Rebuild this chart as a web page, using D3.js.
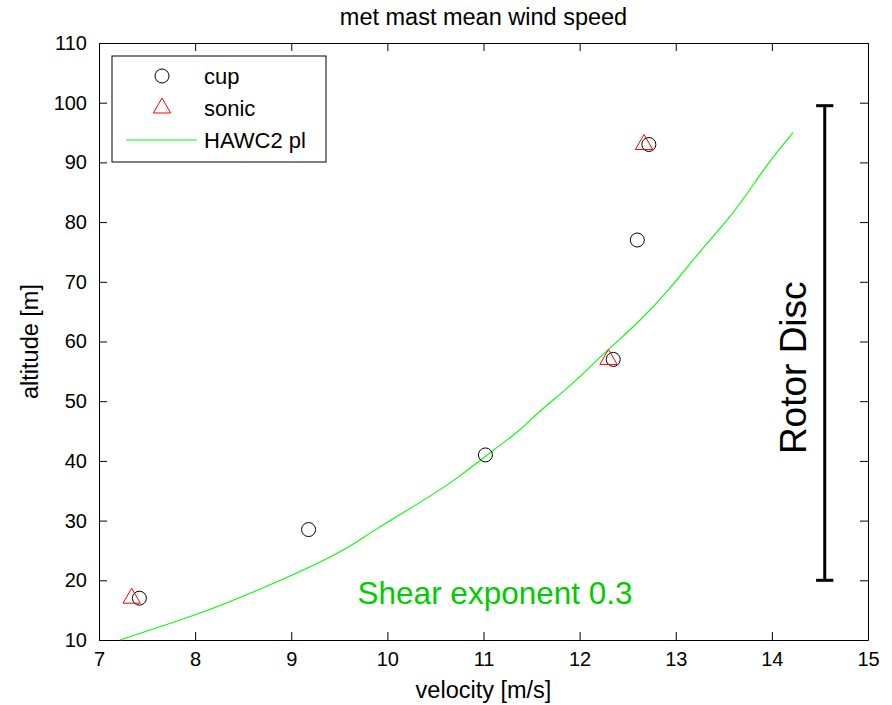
<!DOCTYPE html>
<meta charset="utf-8">
<style>
body { margin: 0; background: #fff; }
svg { font-family: "Liberation Sans", Arial, sans-serif; }
.axis path, .axis line { stroke: #000; }
.axis text { font-size: 20px; fill: #000; }
</style>
<svg width="892" height="705"></svg>
<script src="https://d3js.org/d3.v7.min.js"></script>
<script>

// values
var cupVel = [7.42, 9.18, 11.02, 12.35, 12.60, 12.72],
    cupAlt = [17, 28.5, 41, 57, 77, 93];
var sonicVel = [7.34, 12.30, 12.67],
    sonicAlt = [17, 57, 93];
var plVel = [7.22, 7.63, 8.15, 8.60, 8.92, 9.30, 9.61, 9.82, 10.42, 10.73, 11.10, 11.39, 11.59, 11.88, 12.15, 12.30, 12.64, 12.95, 13.26, 13.54, 13.75, 13.96, 14.22],
    plAlt = [10, 12.2, 15, 18, 20.2, 23, 25.6, 28, 33.8, 37.1, 41.8, 45.2, 48.5, 52.2, 56.4, 58.7, 63.6, 69, 75.3, 80.3, 84.9, 89.9, 95];
var rotorVel = 14.55,
    rotorAlt = [20, 99.5];
var xTicks = [7, 8, 9, 10, 11, 12, 13, 14, 15],
    yTicks = [10, 20, 30, 40, 50, 60, 70, 80, 90, 100, 110];

var svg = d3.select("svg"),
    margin = {top: 43, right: 24, bottom: 65, left: 99},
    width = +svg.attr("width") - margin.left - margin.right,
    height = +svg.attr("height") - margin.top - margin.bottom;

var x = d3.scaleLinear().domain([7, 15]).range([0, width]),
    y = d3.scaleLinear().domain([10, 110]).range([height, 0]);

var g = svg.append("g")
    .attr("transform", "translate(" + margin.left + "," + margin.top + ")");

// axes, matlab style: ticks inward on all four sides
g.append("g")
    .attr("class", "axis")
    .attr("transform", "translate(0," + height + ")")
    .call(d3.axisBottom(x).tickValues(xTicks).tickSize(-8).tickPadding(12).tickSizeOuter(0));
g.append("g")
    .attr("class", "axis")
    .call(d3.axisTop(x).tickValues(xTicks).tickSize(-8).tickFormat("").tickSizeOuter(0));
g.append("g")
    .attr("class", "axis")
    .call(d3.axisLeft(y).tickValues(yTicks).tickSize(-8).tickPadding(12).tickSizeOuter(0));
g.append("g")
    .attr("class", "axis")
    .attr("transform", "translate(" + width + ",0)")
    .call(d3.axisRight(y).tickValues(yTicks).tickSize(-8).tickFormat("").tickSizeOuter(0));

// power law line
var line = d3.line()
    .curve(d3.curveBasis)
    .x(function(d) { return x(d[0]); })
    .y(function(d) { return y(d[1]); });
g.append("path")
    .datum(d3.zip(plVel, plAlt))
    .attr("fill", "none")
    .attr("stroke", "#00ff00")
    .attr("stroke-width", 1.1)
    .attr("d", line);

// cup
g.selectAll(".cup")
    .data(d3.zip(cupVel, cupAlt))
  .enter().append("circle")
    .attr("class", "cup")
    .attr("cx", function(d) { return x(d[0]); })
    .attr("cy", function(d) { return y(d[1]); })
    .attr("r", 7)
    .attr("fill", "none")
    .attr("stroke", "#000");

// sonic
var tri = d3.symbol().type(d3.symbolTriangle).size(130);
g.selectAll(".sonic")
    .data(d3.zip(sonicVel, sonicAlt))
  .enter().append("path")
    .attr("class", "sonic")
    .attr("transform", function(d) { return "translate(" + x(d[0]) + "," + y(d[1]) + ")"; })
    .attr("d", tri)
    .attr("fill", "none")
    .attr("stroke", "#ff0000");

// rotor disc bar
var cap = 0.09;
g.append("line")
    .attr("x1", x(rotorVel)).attr("x2", x(rotorVel))
    .attr("y1", y(rotorAlt[0])).attr("y2", y(rotorAlt[1]))
    .attr("stroke", "#000").attr("stroke-width", 3);
rotorAlt.forEach(function(a) {
  g.append("line")
      .attr("x1", x(rotorVel - cap)).attr("x2", x(rotorVel + cap))
      .attr("y1", y(a)).attr("y2", y(a))
      .attr("stroke", "#000").attr("stroke-width", 3);
});
g.append("text")
    .attr("transform", "translate(" + (x(rotorVel) - 19) + "," + y(55.6) + ") rotate(-90)")
    .attr("text-anchor", "middle")
    .style("font-size", "37px")
    .text("Rotor Disc");

g.append("text")
    .attr("x", x(9.69))
    .attr("y", y(16.1))
    .style("font-size", "31.5px")
    .attr("fill", "rgb(0,204,0)")
    .text("Shear exponent 0.3");

// titles
svg.append("text")
    .attr("x", margin.left + width / 2)
    .attr("y", 25)
    .attr("text-anchor", "middle")
    .style("font-size", "23.5px")
    .text("met mast mean wind speed");
svg.append("text")
    .attr("x", margin.left + width / 2)
    .attr("y", 698)
    .attr("text-anchor", "middle")
    .style("font-size", "23.5px")
    .text("velocity [m/s]");
svg.append("text")
    .attr("transform", "translate(38," + (margin.top + height / 2) + ") rotate(-90)")
    .attr("text-anchor", "middle")
    .style("font-size", "23.5px")
    .text("altitude [m]");

// legend
var lg = svg.append("g").attr("transform", "translate(112,56)");
lg.append("rect")
    .attr("width", 214).attr("height", 106)
    .attr("fill", "#fff").attr("stroke", "#000");
lg.append("circle").attr("cx", 50).attr("cy", 20).attr("r", 7)
    .attr("fill", "none").attr("stroke", "#000");
lg.append("path").attr("transform", "translate(50,52)").attr("d", tri)
    .attr("fill", "none").attr("stroke", "#ff0000");
lg.append("line").attr("x1", 14).attr("x2", 85).attr("y1", 84).attr("y2", 84)
    .attr("stroke", "#00ff00").attr("stroke-width", 1.1);
var labels = ["cup", "sonic", "HAWC2 pl"];
lg.selectAll(".lt")
    .data(labels)
  .enter().append("text")
    .attr("x", 92)
    .attr("y", function(d, i) { return 28 + i * 32; })
    .style("font-size", "22px")
    .text(function(d) { return d; });

</script>
